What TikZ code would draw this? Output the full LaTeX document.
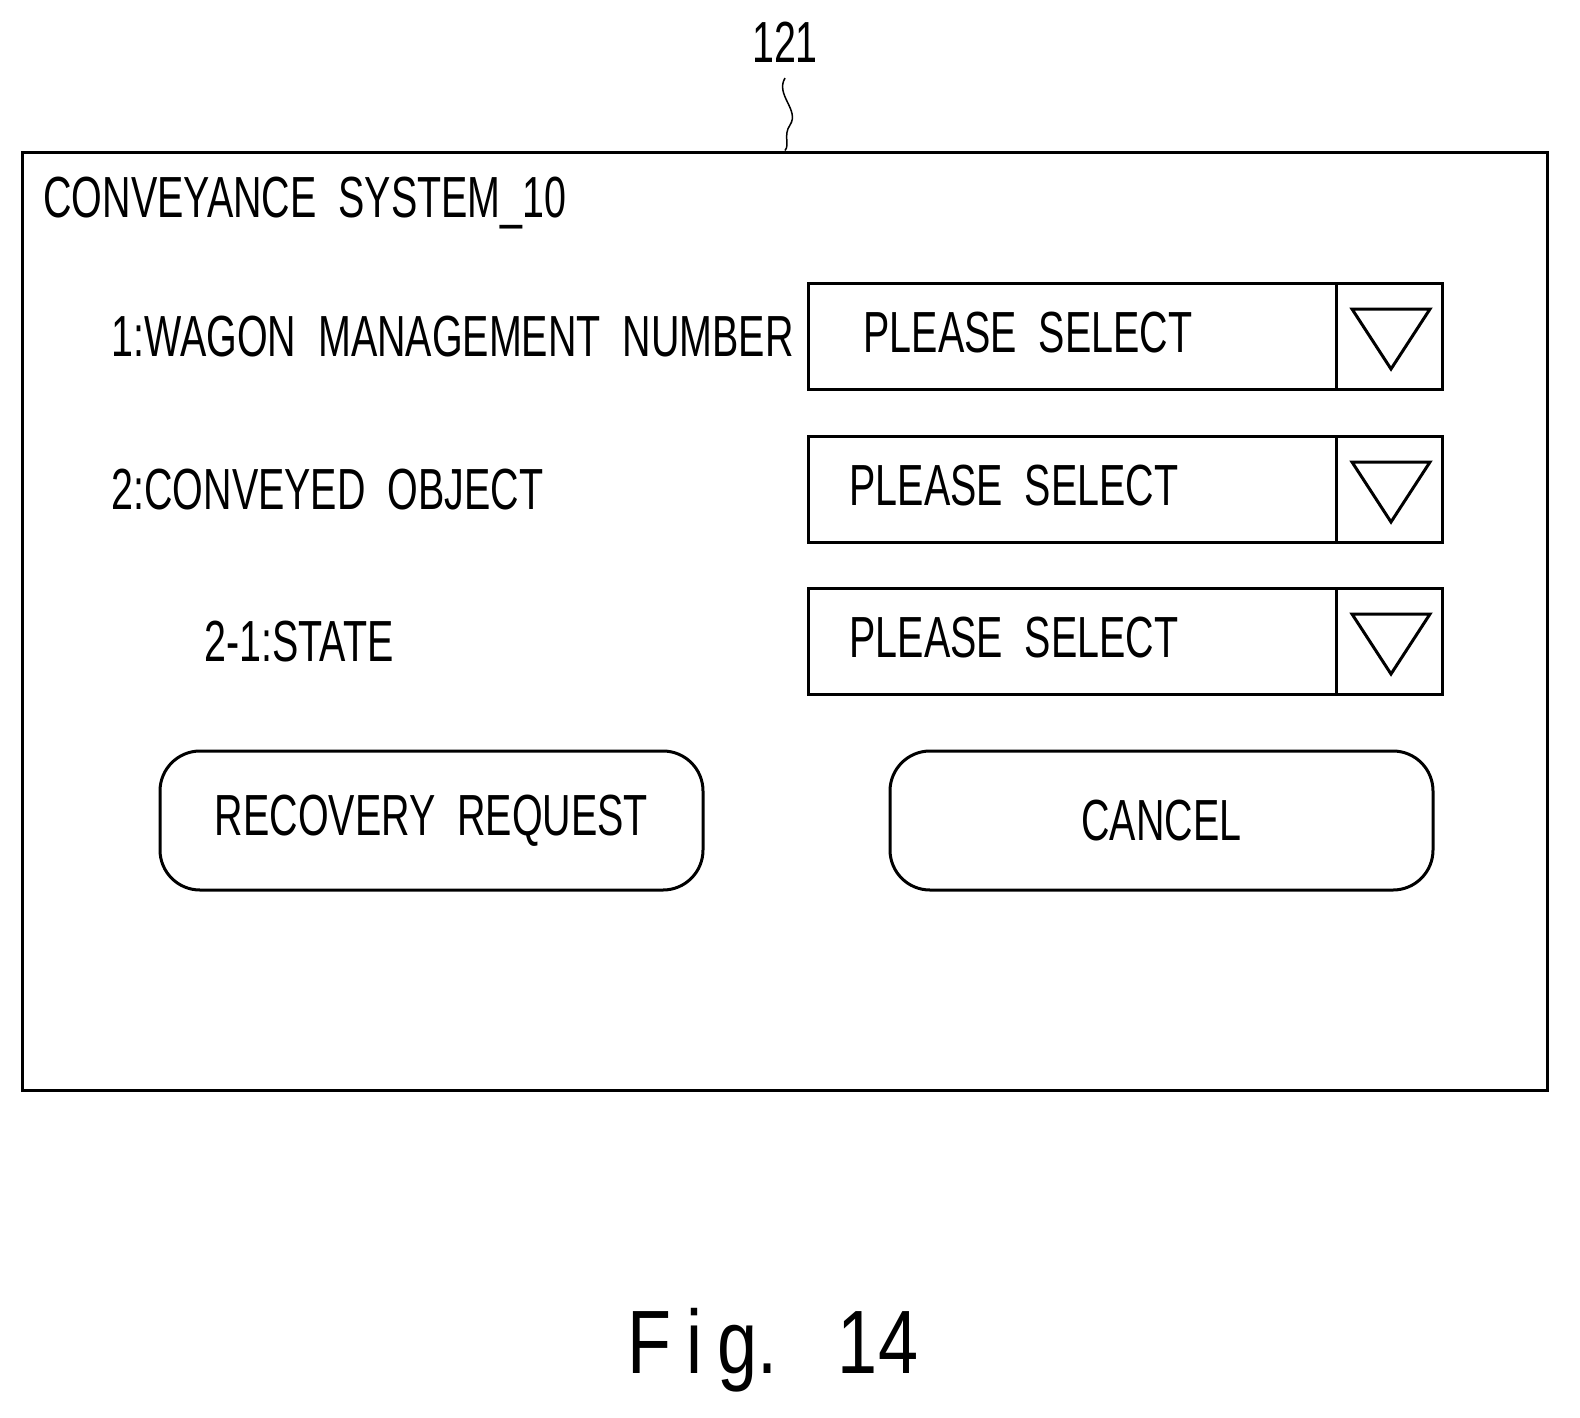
\documentclass[tikz,border=0pt]{standalone}
\usepackage{fontspec}
\setmainfont{Liberation Sans}[FakeStretch=0.68]
\newfontfamily\figfont{Liberation Sans}[FakeStretch=0.8]
\usetikzlibrary{decorations.pathmorphing}
\begin{document}
\begin{tikzpicture}[x=1pt,y=-1pt,line width=3pt,
  lbl/.style={anchor=west,inner sep=0pt,font=\fontsize{58}{60}\selectfont},
  box/.style={draw,minimum width=634pt,minimum height=106pt,inner sep=0pt},
  btn/.style={draw,rounded corners=40pt,minimum width=543pt,minimum height=139pt,inner sep=0pt,font=\fontsize{58}{60}\selectfont}]
\useasboundingbox (0,0) rectangle (1580,1417);
\node[draw,minimum width=1525pt,minimum height=938pt,inner sep=0pt] (frame) at (784.5,621) {};
\node[font=\fontsize{58}{60}\selectfont] (ref) at (785,42) {121};
\coordinate (lead) at (785,78);
\draw[line width=1.5pt] (lead) .. controls (775,95) and (800,110) .. (790,125) .. controls (783,135) and (790,145) .. (frame.north -| 785,0);
\node[lbl] (title) at (42,203) {CONVEYANCE\ \ SYSTEM\_10};
\node[lbl] (l1) at (110,337) {1:WAGON\ \ MANAGEMENT\ \ NUMBER};
\node[lbl] (l2) at (110,490) {2:CONVEYED\ \ OBJECT};
\node[lbl] (l3) at (203,642) {2-1:STATE};
\foreach \n/\y/\tx in {a/336/862,b/489/848,c/641/848}{
  \node[box] (d\n) at (1125,\y) {};
  \draw (1336,\y-53) -- (1336,\y+53);
  \draw (1352,\y-27) -- (1430,\y-27) -- (1391,\y+33) -- cycle;
  \node[lbl] (t\n) at (\tx,\y-3) {PLEASE\ \ SELECT};
}
\node[btn] (rec) at (431.5,820.5) {RECOVERY\ \ REQUEST};
\node[btn] (can) at (1161.5,820.5) {CANCEL};
\node[font=\figfont\fontsize{90}{90}\selectfont] (fig) at (773,1350) {F\,i\,g.\ \ \ 14};
\end{tikzpicture}
\end{document}
